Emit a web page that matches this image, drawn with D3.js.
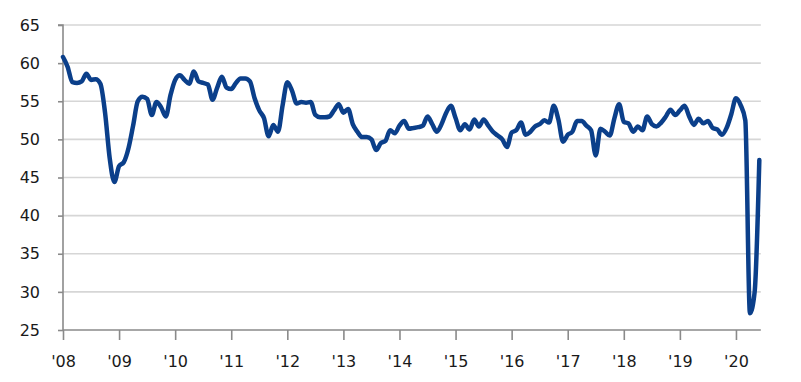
<!DOCTYPE html>
<html>
<head>
<meta charset="utf-8">
<script src="https://cdn.jsdelivr.net/npm/d3@7"></script>
<style>
  html, body { margin: 0; padding: 0; background: #ffffff; }
  svg text { font-family: "DejaVu Sans", sans-serif; fill: #1a1a1a; }
</style>
</head>
<body>
<svg id="chart" width="801" height="382"></svg>
<script>
// Monthly index values, Jan 2008 .. Jun 2020
const values2008 = [60.8, 59.5, 57.5, 57.4, 57.6, 58.6, 57.8, 57.9, 57.3, 53.5, 47.5, 44.4];
const values2009 = [46.5, 47.0, 48.8, 51.8, 55.0, 55.6, 55.3, 53.2, 54.9, 54.2, 53.0, 55.8];
const values2010 = [57.8, 58.4, 57.8, 57.3, 58.9, 57.6, 57.4, 57.2, 55.2, 56.8, 58.2, 56.8];
const values2011 = [56.6, 57.4, 58.0, 58.0, 57.6, 55.4, 53.8, 52.8, 50.4, 51.9, 51.0, 54.5];
const values2012 = [57.5, 56.4, 54.7, 54.9, 54.8, 54.9, 53.2, 52.9, 52.9, 53.0, 53.8, 54.6];
const values2013 = [53.5, 54.0, 52.0, 51.0, 50.3, 50.3, 50.0, 48.6, 49.5, 49.8, 51.2, 50.8];
const values2014 = [51.8, 52.4, 51.4, 51.5, 51.6, 51.8, 53.0, 52.0, 51.0, 52.0, 53.5, 54.4];
const values2015 = [52.8, 51.2, 52.0, 51.3, 52.6, 51.7, 52.6, 51.8, 51.0, 50.5, 50.0, 49.0];
const values2016 = [50.9, 51.2, 52.2, 50.6, 51.0, 51.7, 52.0, 52.5, 52.2, 54.4, 52.6, 49.7];
const values2017 = [50.6, 51.0, 52.4, 52.4, 51.8, 51.2, 47.9, 51.4, 51.0, 50.5, 52.8, 54.6];
const values2018 = [52.3, 52.1, 51.0, 51.7, 51.2, 53.0, 52.0, 51.7, 52.2, 53.0, 53.9, 53.2];
const values2019 = [53.8, 54.4, 53.0, 51.9, 52.7, 52.1, 52.4, 51.5, 51.3, 50.6, 51.5, 53.3];
const values2020 = [55.4, 54.5, 52.5, 27.2, 30.0, 47.3];

const yearLabels = ["'08", "'09", "'10", "'11", "'12", "'13", "'14", "'15", "'16", "'17", "'18", "'19", "'20"];
const yTicks = [25, 30, 35, 40, 45, 50, 55, 60, 65];

const series = [].concat(values2008, values2009, values2010, values2011, values2012,
  values2013, values2014, values2015, values2016, values2017, values2018, values2019, values2020);
const data = series.map((v, i) => ({ i, v }));

const svg = d3.select("#chart");
const plotLeft = 63, plotTop = 25, plotBottom = 330;
const monthW = 56.08 / 12;
const x = d3.scaleLinear().domain([0, series.length - 1]).range([plotLeft, plotLeft + (series.length - 1) * monthW]);
const y = d3.scaleLinear().domain([25, 65]).range([plotBottom, plotTop]);
const gridRight = x(series.length - 1) + 1.5;

// gridlines
svg.append("g").selectAll("line").data(yTicks.filter(t => t > 25)).join("line")
  .attr("x1", plotLeft).attr("x2", gridRight)
  .attr("y1", d => y(d)).attr("y2", d => y(d))
  .attr("stroke", "#d6d6d6").attr("stroke-width", 1.6);

// y axis
const yAxis = d3.axisLeft(y).tickValues(yTicks).tickSize(5).tickPadding(18).tickFormat(d3.format("d"));
const gy = svg.append("g").attr("transform", `translate(${plotLeft},0)`).call(yAxis);
gy.select(".domain").attr("stroke", "#8a8a8a").attr("stroke-width", 1.6).attr("d", `M-5,${plotTop}H0V${plotBottom}`);
gy.selectAll(".tick line").attr("stroke", "#8a8a8a").attr("stroke-width", 1.6);
gy.selectAll(".tick text").attr("font-size", 16).attr("font-family", "DejaVu Sans, sans-serif").attr("fill", "#1a1a1a");

// x axis
const xAxis = d3.axisBottom(x).tickValues(yearLabels.map((_, k) => k * 12))
  .tickFormat((d, k) => yearLabels[k]).tickSize(10).tickPadding(16);
const gx = svg.append("g").attr("transform", `translate(0,${plotBottom})`).call(xAxis);
gx.select(".domain").attr("stroke", "#8a8a8a").attr("stroke-width", 1.6).attr("d", `M${plotLeft},0H${gridRight}`);
gx.selectAll(".tick line").attr("stroke", "#8a8a8a").attr("stroke-width", 1.6);
gx.selectAll(".tick text").attr("font-size", 16).attr("font-family", "DejaVu Sans, sans-serif").attr("fill", "#1a1a1a");

// line
const line = d3.line().x(d => x(d.i)).y(d => y(d.v)).curve(d3.curveMonotoneX);
svg.append("path").datum(data)
  .attr("d", line)
  .attr("fill", "none")
  .attr("stroke", "#0b3f8a")
  .attr("stroke-width", 4.5)
  .attr("stroke-linejoin", "round")
  .attr("stroke-linecap", "round");
</script>
</body>
</html>
